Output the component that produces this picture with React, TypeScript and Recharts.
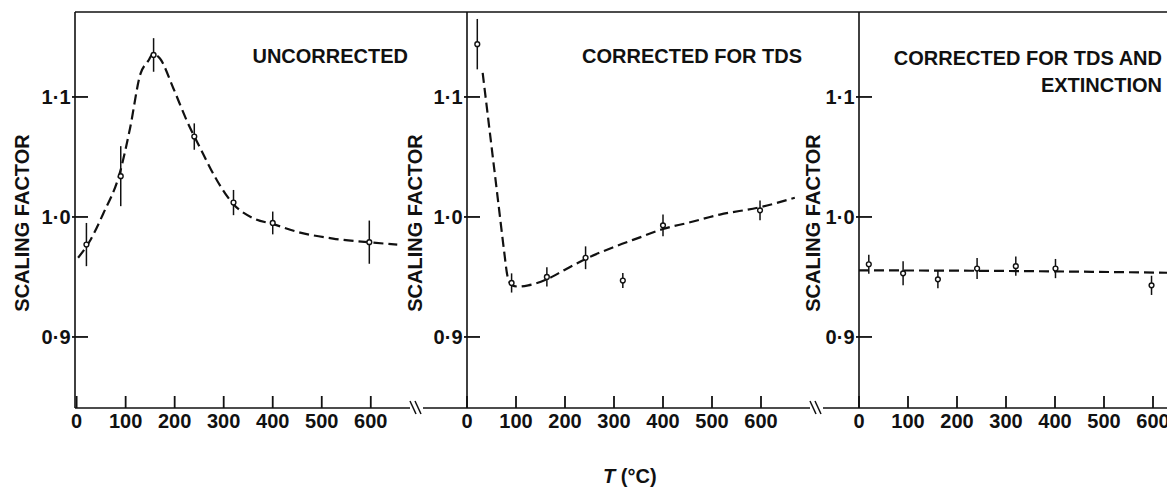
import React from 'react';
import { ComposedChart, Line, Scatter, XAxis, YAxis, ErrorBar } from 'recharts';

const xTicks = [0, 100, 200, 300, 400, 500, 600];
const yTicks = [0.9, 1.0, 1.1];
const yDomain: [number, number] = [0.8408, 1.1708];

// Panel 1: UNCORRECTED
const p1Temps = [20, 90, 157, 240, 320, 400, 597];
const p1Values = [0.977, 1.034, 1.135, 1.067, 1.012, 0.995, 0.979];
const p1Errors = [0.018, 0.025, 0.014, 0.011, 0.0105, 0.0095, 0.018];
const p1CurveT = [3, 27, 54, 89, 109, 130, 146, 156, 170, 197, 225, 252, 287, 319, 360, 401, 456, 523, 593, 654];
const p1CurveV = [0.966, 0.98, 1.0025, 1.038, 1.074, 1.119, 1.13, 1.136, 1.132, 1.1075, 1.08, 1.0575, 1.03, 1.011, 0.999, 0.994, 0.987, 0.982, 0.979, 0.977];

// Panel 2: CORRECTED FOR TDS
const p2Temps = [21, 91, 163, 242, 318, 400, 598];
const p2Values = [1.144, 0.945, 0.95, 0.966, 0.947, 0.993, 1.0055];
const p2Errors = [0.021, 0.008, 0.008, 0.0095, 0.0063, 0.009, 0.0083];
const p2CurveT = [32, 45, 55, 65, 75, 83, 92, 105, 125, 163, 200, 242, 300, 353, 400, 450, 516, 597, 669];
const p2CurveV = [1.12, 1.076, 1.042, 1.008, 0.974, 0.95, 0.943, 0.942, 0.943, 0.948, 0.956, 0.965, 0.975, 0.983, 0.99, 0.995, 1.002, 1.008, 1.016];

// Panel 3: CORRECTED FOR TDS AND EXTINCTION
const p3Temps = [20, 90, 161, 241, 320, 401, 597];
const p3Values = [0.9606, 0.953, 0.948, 0.957, 0.959, 0.957, 0.943];
const p3Errors = [0.008, 0.01, 0.0075, 0.0087, 0.008, 0.008, 0.008];
const p3CurveT = [0, 300, 630];
const p3CurveV = [0.9555, 0.955, 0.9535];

const FONT = '"Liberation Sans", Arial, Helvetica, sans-serif';
const INK = '#111';

const toPoints = (t: number[], v: number[], e?: number[]) =>
  t.map((x, i) => ({ t: x, v: v[i], e: e ? e[i] : 0 }));

const fmt = (v: number) => v.toFixed(1).replace('.', '\u00B7');

const Dot = (p: any) => (
  <circle cx={p.cx} cy={p.cy} r={2.4} fill="#fff" stroke={INK} strokeWidth={1.4} />
);

const txt = { fontFamily: FONT, fontSize: 20, fontWeight: 700, fill: INK } as const;

// bottom axis tick: inward (upward) mark, label below
const XTick = (p: any) => {
  const x = Number(p.x);
  const y = Number(p.y);
  return (
    <g>
      <path d={`M${x},${y}V${y - 12}`} stroke={INK} strokeWidth={1.8} fill="none" />
      <text x={x} y={y + 6} dy="0.71em" textAnchor="middle" style={txt}>
        {String(p.payload.value)}
      </text>
    </g>
  );
};

// left axis tick: inward (rightward) mark, label to the left
const YTick = (p: any) => {
  const x = Number(p.x);
  const y = Number(p.y);
  return (
    <g>
      <path d={`M${x - 3},${y}H${x + 13}`} stroke={INK} strokeWidth={1.8} fill="none" />
      <text x={x - 4.5} y={y} dy="0.355em" textAnchor="end" style={txt}>
        {fmt(p.payload.value)}
      </text>
    </g>
  );
};

type PanelProps = {
  left: number;
  width: number;
  domain: [number, number];
  t: number[];
  v: number[];
  e: number[];
  ct: number[];
  cv: number[];
};

function Panel({ left, width, domain, t, v, e, ct, cv }: PanelProps) {
  const pts = toPoints(t, v, e);
  const curve = toPoints(ct, cv);
  return (
    <div style={{ position: 'absolute', left, top: 0 }}>
      <ComposedChart width={width} height={487} margin={{ top: 12, right: 0, bottom: 39, left: 0 }}>
        <Line
          data={curve}
          dataKey="v"
          type="monotone"
          stroke={INK}
          strokeWidth={2.2}
          strokeDasharray="10 5"
          dot={false}
          activeDot={false}
          isAnimationActive={false}
        />
        <Scatter data={pts} dataKey="v" shape={Dot} isAnimationActive={false}>
          <ErrorBar dataKey="e" direction="y" width={0} stroke={INK} strokeWidth={1.5} isAnimationActive={false} />
        </Scatter>
        <XAxis
          type="number"
          dataKey="t"
          domain={domain}
          allowDataOverflow
          ticks={xTicks}
          interval={0}
          height={40}
          tickSize={0}
          tickMargin={0}
          axisLine={{ stroke: INK, strokeWidth: 1.6 }}
          tickLine={false}
          tick={(props: any) => <XTick {...props} />}
        />
        <YAxis
          type="number"
          domain={yDomain}
          allowDataOverflow
          ticks={yTicks}
          interval={0}
          width={75}
          tickSize={0}
          tickMargin={0}
          axisLine={{ stroke: INK, strokeWidth: 1.6 }}
          tickLine={false}
          tick={(props: any) => <YTick {...props} />}
        />
      </ComposedChart>
    </div>
  );
}

export default function App() {
  return (
    <div
      style={{
        position: 'absolute',
        left: 0,
        top: 0,
        width: 1167,
        height: 487,
        overflow: 'hidden',
        background: '#fff',
      }}
    >
      <Panel left={0} width={410} domain={[-3.3, 680]} t={p1Temps} v={p1Values} e={p1Errors} ct={p1CurveT} cv={p1CurveV} />
      <Panel left={392} width={418} domain={[0, 700]} t={p2Temps} v={p2Values} e={p2Errors} ct={p2CurveT} cv={p2CurveV} />
      <Panel left={784} width={418} domain={[0, 700]} t={p3Temps} v={p3Values} e={p3Errors} ct={p3CurveT} cv={p3CurveV} />
      <svg
        width={1167}
        height={487}
        style={{ position: 'absolute', left: 0, top: 0, pointerEvents: 'none' }}
      >
        {/* top frame */}
        <line x1={75} y1={12} x2={1167} y2={12} stroke={INK} strokeWidth={1.4} />
        {/* axis extensions and breaks */}
        <line x1={423} y1={408} x2={467} y2={408} stroke={INK} strokeWidth={1.6} />
        <line x1={823} y1={408} x2={859} y2={408} stroke={INK} strokeWidth={1.6} />
        <line x1={410} y1={401} x2={416} y2={414} stroke={INK} strokeWidth={1.5} />
        <line x1={415} y1={401} x2={421} y2={414} stroke={INK} strokeWidth={1.5} />
        <line x1={810} y1={401} x2={816} y2={414} stroke={INK} strokeWidth={1.5} />
        <line x1={815} y1={401} x2={821} y2={414} stroke={INK} strokeWidth={1.5} />
        {/* y labels */}
        {[22, 415, 813].map((x) => (
          <text
            key={x}
            x={x}
            y={223}
            transform={`rotate(-90 ${x} 223)`}
            textAnchor="middle"
            dominantBaseline="central"
            style={txt}
          >
            SCALING FACTOR
          </text>
        ))}
        {/* panel titles */}
        <text x={408} y={63} textAnchor="end" style={txt}>UNCORRECTED</text>
        <text x={802} y={63} textAnchor="end" style={txt}>CORRECTED FOR TDS</text>
        <text x={1162} y={65} textAnchor="end" style={txt}>CORRECTED FOR TDS AND</text>
        <text x={1162} y={92} textAnchor="end" style={txt}>EXTINCTION</text>
        {/* x label */}
        <text x={603} y={483} style={txt}>
          <tspan fontStyle="italic">T</tspan>
          <tspan> (°C)</tspan>
        </text>
      </svg>
    </div>
  );
}
